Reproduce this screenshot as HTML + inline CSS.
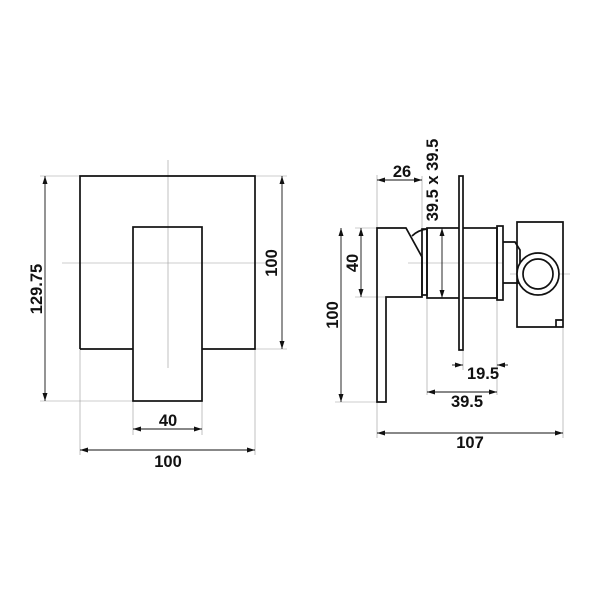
<!DOCTYPE html>
<html><head><style>body{margin:0;background:#fff}svg{display:block}text{font-family:"Liberation Sans",sans-serif;font-weight:bold;font-size:16.5px;fill:#111}</style></head><body>
<svg width="600" height="600" viewBox="0 0 600 600" xmlns="http://www.w3.org/2000/svg">
<defs><marker id="a" markerWidth="8" markerHeight="6" refX="8" refY="3" orient="auto-start-reverse" markerUnits="userSpaceOnUse"><path d="M0,0.5 L8,3 L0,5.5z" fill="#111"/></marker></defs>
<g stroke="#999" stroke-width="0.6" fill="none">
<line x1="168" y1="160" x2="168" y2="368"/><line x1="62" y1="263" x2="265" y2="263"/>
<line x1="40" y1="176" x2="80" y2="176"/><line x1="40" y1="401" x2="133" y2="401"/>
<line x1="255" y1="176" x2="287" y2="176"/><line x1="255" y1="349" x2="287" y2="349"/>
<line x1="133" y1="401" x2="133" y2="435"/><line x1="202" y1="401" x2="202" y2="435"/>
<line x1="80" y1="349" x2="80" y2="455"/><line x1="255" y1="349" x2="255" y2="455"/>
<line x1="408" y1="263" x2="503" y2="263"/><line x1="510" y1="274" x2="570" y2="274"/>
<line x1="377" y1="175" x2="377" y2="228"/><line x1="422" y1="176" x2="422" y2="228"/>
<line x1="355" y1="228" x2="377" y2="228"/><line x1="355" y1="297" x2="386" y2="297"/>
<line x1="335" y1="402" x2="377" y2="402"/>
<line x1="427" y1="298" x2="427" y2="395"/><line x1="497" y1="300" x2="497" y2="395"/>
<line x1="463" y1="350" x2="463" y2="370"/><line x1="563" y1="327" x2="563" y2="438"/><line x1="377" y1="402" x2="377" y2="438"/>
</g>
<g stroke="#111" stroke-width="0.9" fill="none">
<line x1="45" y1="176" x2="45" y2="401" marker-start="url(#a)" marker-end="url(#a)"/>
<line x1="282" y1="176" x2="282" y2="349" marker-start="url(#a)" marker-end="url(#a)"/>
<line x1="133" y1="429" x2="202" y2="429" marker-start="url(#a)" marker-end="url(#a)"/>
<line x1="80" y1="450" x2="255" y2="450" marker-start="url(#a)" marker-end="url(#a)"/>
<line x1="377" y1="180" x2="422" y2="180" marker-start="url(#a)" marker-end="url(#a)"/>
<line x1="442" y1="228" x2="442" y2="298" marker-start="url(#a)" marker-end="url(#a)"/>
<line x1="361" y1="228" x2="361" y2="297" marker-start="url(#a)" marker-end="url(#a)"/>
<line x1="341" y1="228" x2="341" y2="402" marker-start="url(#a)" marker-end="url(#a)"/>
<line x1="452" y1="365" x2="463" y2="365" marker-end="url(#a)"/><line x1="508" y1="365" x2="497" y2="365" marker-end="url(#a)"/>
<line x1="427" y1="392" x2="497" y2="392" marker-start="url(#a)" marker-end="url(#a)"/>
<line x1="377" y1="433" x2="563" y2="433" marker-start="url(#a)" marker-end="url(#a)"/>
</g>
<g stroke="#111" stroke-width="1.7" fill="none">
<path d="M80,349 V176 H255 V349 H202 M133,349 H80"/>
<rect x="133" y="227" width="69" height="174"/>
<path d="M377,402 V228 H406 L422,257 V297 H386 V402 Z"/>
<path d="M412,236 Q418,230 427,229"/>
<rect x="422" y="229" width="5" height="66"/>
<rect x="427" y="228" width="70" height="70"/>
<rect x="459" y="176" width="4" height="174" fill="#fff"/>
<rect x="497" y="226" width="6" height="74"/>
<path d="M503,242 H515 L520,250 V283 H503"/>
<path d="M517,222 H563 V327 H517 Z M556,327 V320 H563"/>
<circle cx="538" cy="274" r="21" fill="#fff"/><circle cx="538" cy="274" r="15"/>
</g>
<text x="168" y="426" text-anchor="middle">40</text>
<text x="168" y="467" text-anchor="middle">100</text>
<text transform="translate(42,289) rotate(-90)" text-anchor="middle">129.75</text>
<text transform="translate(277,263) rotate(-90)" text-anchor="middle">100</text>
<text x="402" y="177" text-anchor="middle">26</text>
<text transform="translate(438,180) rotate(-90)" text-anchor="middle">39.5 x 39.5</text>
<text transform="translate(358,263) rotate(-90)" text-anchor="middle">40</text>
<text transform="translate(338,315) rotate(-90)" text-anchor="middle">100</text>
<text x="483" y="379" text-anchor="middle">19.5</text>
<text x="467" y="407" text-anchor="middle">39.5</text>
<text x="470" y="448" text-anchor="middle">107</text>
</svg>
</body></html>
